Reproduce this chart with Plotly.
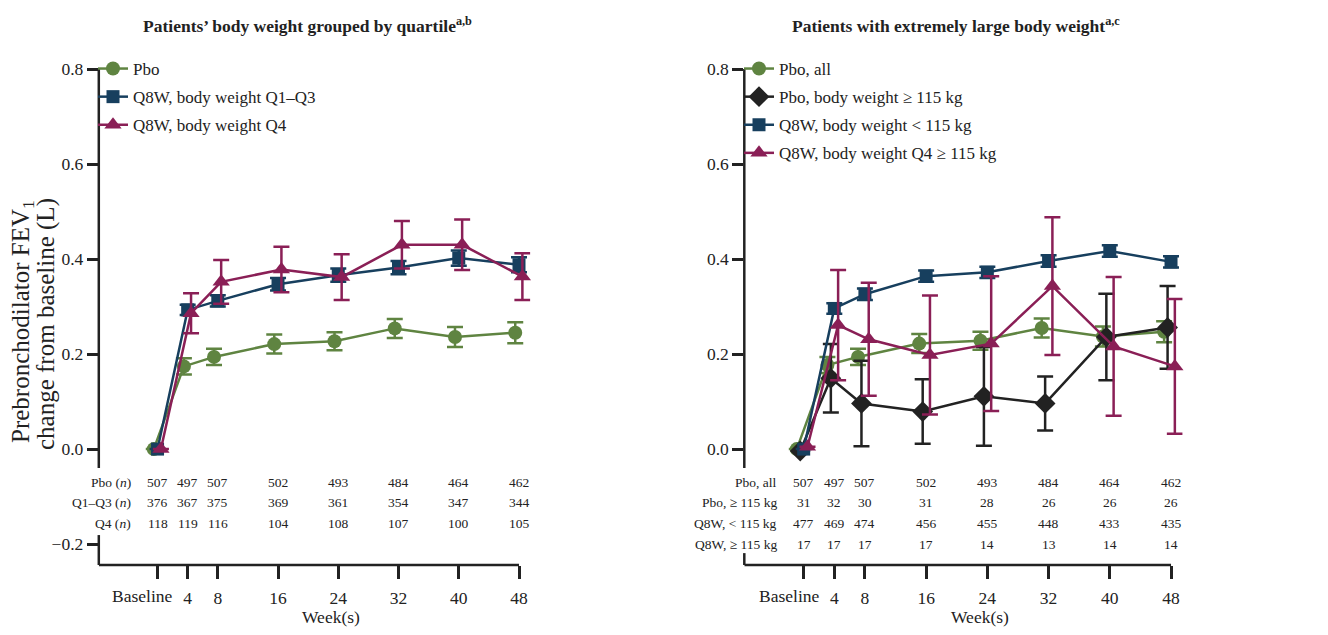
import plotly.graph_objects as go

# ---------------- data ----------------
weeks = [0, 4, 8, 16, 24, 32, 40, 48]
tick_labels = ["Baseline", "4", "8", "16", "24", "32", "40", "48"]

# Left panel: grouped by quartile
pbo_mean = [0.0, 0.174, 0.194, 0.221, 0.227, 0.254, 0.236, 0.245]
pbo_err = [0.0, 0.017, 0.017, 0.020, 0.019, 0.020, 0.021, 0.022]
q13_mean = [0.0, 0.293, 0.312, 0.347, 0.366, 0.382, 0.402, 0.388]
q13_err = [0.0, 0.011, 0.012, 0.013, 0.014, 0.014, 0.016, 0.016]
q4_mean = [0.0, 0.286, 0.352, 0.378, 0.362, 0.430, 0.430, 0.363]
q4_err = [0.0, 0.042, 0.046, 0.048, 0.048, 0.050, 0.053, 0.049]

# Right panel: extremely large body weight
pboall_mean = [0.0, 0.177, 0.194, 0.222, 0.228, 0.255, 0.237, 0.247]
pboall_err = [0.0, 0.017, 0.017, 0.020, 0.019, 0.020, 0.021, 0.022]
pbo115_mean = [-0.004, 0.149, 0.096, 0.079, 0.111, 0.096, 0.236, 0.256]
pbo115_err = [0.0, 0.072, 0.090, 0.068, 0.104, 0.057, 0.091, 0.087]
q8lt_mean = [0.0, 0.296, 0.326, 0.364, 0.372, 0.396, 0.417, 0.394]
q8lt_err = [0.0, 0.011, 0.012, 0.012, 0.012, 0.012, 0.012, 0.012]
q8ge_mean = [0.005, 0.261, 0.231, 0.198, 0.222, 0.343, 0.216, 0.174]
q8ge_err = [0.0, 0.116, 0.119, 0.125, 0.142, 0.145, 0.146, 0.142]

# n tables
left_rows = ["Pbo (<i>n</i>)", "Q1–Q3 (<i>n</i>)", "Q4 (<i>n</i>)"]
left_n = [
    [507, 497, 507, 502, 493, 484, 464, 462],
    [376, 367, 375, 369, 361, 354, 347, 344],
    [118, 119, 116, 104, 108, 107, 100, 105],
]
right_rows = ["Pbo, all", "Pbo, ≥ 115 kg", "Q8W, &lt; 115 kg", "Q8W, ≥ 115 kg"]
right_n = [
    [507, 497, 507, 502, 493, 484, 464, 462],
    [31, 32, 30, 31, 28, 26, 26, 26],
    [477, 469, 474, 456, 455, 448, 433, 435],
    [17, 17, 17, 17, 14, 13, 14, 14],
]

GREEN = "#5f8441"
NAVY = "#173f5e"
MAGENTA = "#8a1f56"
BLACK = "#222222"
FONT = "Liberation Serif"

# the page body adds an 8px margin; size the figure to fit the window
BODY = 8
W, H = 1328 - 2 * BODY, 635 - 2 * BODY


def px(X):
    return (X - BODY) / W


def py(Y):
    return 1 - (Y - BODY) / H


fig = go.Figure()


def add_series(xaxis, yaxis, name, mean, err, offset, color, symbol, size, legend, group):
    fig.add_trace(go.Scatter(
        x=[w + offset for w in weeks], y=mean,
        mode="lines+markers", name=name,
        xaxis=xaxis, yaxis=yaxis, legend=legend, legendgroup=group,
        line=dict(color=color, width=2.5),
        marker=dict(color=color, symbol=symbol, size=size, line=dict(width=0)),
        error_y=dict(type="data", array=err, color=color, thickness=2.5, width=8),
        cliponaxis=False,
    ))


# left panel
add_series("x", "y", "Pbo", pbo_mean, pbo_err, -0.5, GREEN, "circle", 14, "legend", "a1")
add_series("x", "y", "Q8W, body weight Q1–Q3", q13_mean, q13_err, 0.0, NAVY, "square", 13, "legend", "a2")
add_series("x", "y", "Q8W, body weight Q4", q4_mean, q4_err, 0.45, MAGENTA, "triangle-up", 15, "legend", "a3")

# right panel
add_series("x2", "y2", "Pbo, all", pboall_mean, pboall_err, -0.9, GREEN, "circle", 14, "legend2", "b1")
add_series("x2", "y2", "Pbo, body weight ≥ 115 kg", pbo115_mean, pbo115_err, -0.45, BLACK, "diamond", 16, "legend2", "b2")
add_series("x2", "y2", "Q8W, body weight &lt; 115 kg", q8lt_mean, q8lt_err, 0.0, NAVY, "square", 13, "legend2", "b3")
add_series("x2", "y2", "Q8W, body weight Q4 ≥ 115 kg", q8ge_mean, q8ge_err, 0.5, MAGENTA, "triangle-up", 15, "legend2", "b4")

yrange = [-0.244, 0.8]
xmax = 49.5

common_x = dict(tickmode="array", tickvals=weeks, ticktext=[""] + tick_labels[1:],
                showline=False, ticks="outside", tickangle=0, automargin=False,
                ticklen=13, tickwidth=2.5, tickcolor=BLACK, showgrid=False, zeroline=False,
                tickfont=dict(family=FONT, size=17.5, color=BLACK), ticklabelstandoff=4)
common_y = dict(range=yrange, showline=False, ticks="outside", ticklen=11, tickwidth=2.5,
                tickcolor=BLACK, showgrid=False, zeroline=False, automargin=False,
                domain=[py(565), py(69)],
                tickfont=dict(family=FONT, size=17.5, color=BLACK))

legend_common = dict(xanchor="left", yanchor="top", font=dict(family=FONT, size=17, color=BLACK),
                     bgcolor="rgba(0,0,0,0)", tracegroupgap=3, itemwidth=30)

fig.update_layout(
    width=W, height=H,
    margin=dict(l=0, r=0, t=0, b=0, autoexpand=False),
    plot_bgcolor="white", paper_bgcolor="white",
    font=dict(family=FONT, color=BLACK),
    showlegend=True,
    xaxis=dict(domain=[px(98.8), px(530.3)], range=[-7.8, xmax], anchor="y", **common_x),
    yaxis=dict(anchor="x", tickmode="array", tickvals=[-0.2, 0.0, 0.2, 0.4, 0.6, 0.8],
               ticktext=["−0.2", "0.0", "0.2", "0.4", "0.6", "0.8"], **common_y),
    xaxis2=dict(domain=[px(744.3), px(1182.5)], range=[-7.76, xmax], anchor="y2", **common_x),
    yaxis2=dict(anchor="x2", tickmode="array", tickvals=[0.0, 0.2, 0.4, 0.6, 0.8],
                ticktext=["0.0", "0.2", "0.4", "0.6", "0.8"], **common_y),
    legend=dict(x=px(93), y=py(51), **legend_common),
    legend2=dict(x=px(739), y=py(51), **legend_common),
)

# broken y-axis lines and x-axis lines
for xa, ya, lower in (("x", "y", -0.181), ("x2", "y2", -0.219)):
    for y0, y1 in ((-0.04, 0.8), (-0.244, lower)):
        fig.add_shape(type="line", xref=xa + " domain", yref=ya, x0=0, x1=0, y0=y0, y1=y1,
                      line=dict(color=BLACK, width=2.5))
x_starts = {"x": -7.8, "x2": -7.76}
for xa, ya in (("x", "y"), ("x2", "y2")):
    fig.add_shape(type="line", xref=xa, yref=ya + " domain", x0=x_starts[xa], x1=48, y0=0, y1=0,
                  line=dict(color=BLACK, width=2.5))

ann = []
# titles
ann.append(dict(text="<b>Patients’ body weight grouped by quartile<sup>a,b</sup></b>",
                x=px(307), y=py(25), xref="paper", yref="paper", xanchor="center",
                yanchor="middle", showarrow=False, font=dict(family=FONT, size=17.5, color=BLACK)))
ann.append(dict(text="<b>Patients with extremely large body weight<sup>a,c</sup></b>",
                x=px(956), y=py(25), xref="paper", yref="paper", xanchor="center",
                yanchor="middle", showarrow=False, font=dict(family=FONT, size=17.5, color=BLACK)))
# y-axis title (two lines)
ann.append(dict(text="Prebronchodilator FEV<sub>1</sub>",
                x=px(22), y=py(322), xref="paper", yref="paper", xanchor="center",
                yanchor="middle", showarrow=False, textangle=-90,
                font=dict(family=FONT, size=25, color=BLACK)))
ann.append(dict(text="change from baseline (L)",
                x=px(46), y=py(324), xref="paper", yref="paper", xanchor="center",
                yanchor="middle", showarrow=False, textangle=-90,
                font=dict(family=FONT, size=25, color=BLACK)))
# x-axis titles and Baseline labels (set slightly left of the tick)
for xa, shift in (("x", -16), ("x2", -15)):
    ann.append(dict(text="Week(s)", x=23, y=py(617), xref=xa, yref="paper",
                    xanchor="center", yanchor="middle", showarrow=False,
                    font=dict(family=FONT, size=17.5, color=BLACK)))
    ann.append(dict(text=tick_labels[0], x=weeks[0], xshift=shift, y=py(596), xref=xa,
                    yref="paper", xanchor="center", yanchor="middle", showarrow=False,
                    font=dict(family=FONT, size=17.5, color=BLACK)))

# n tables
row_y = [482.7, 502.7, 523.3, 544.0]
for xa, rows, table in (("x", left_rows, left_n), ("x2", right_rows, right_n)):
    for r, (label, vals) in enumerate(zip(rows, table)):
        yy = py(row_y[r])
        ann.append(dict(text=label, x=-3.2, y=yy, xref=xa, yref="paper", xanchor="right",
                        yanchor="middle", showarrow=False,
                        font=dict(family=FONT, size=13.5, color=BLACK)))
        for w, v in zip(weeks, vals):
            ann.append(dict(text=str(v), x=w, y=yy, xref=xa, yref="paper", xanchor="center",
                            yanchor="middle", showarrow=False,
                            font=dict(family=FONT, size=13.5, color=BLACK)))

fig.update_layout(annotations=ann)
fig.write_html("out.html")
